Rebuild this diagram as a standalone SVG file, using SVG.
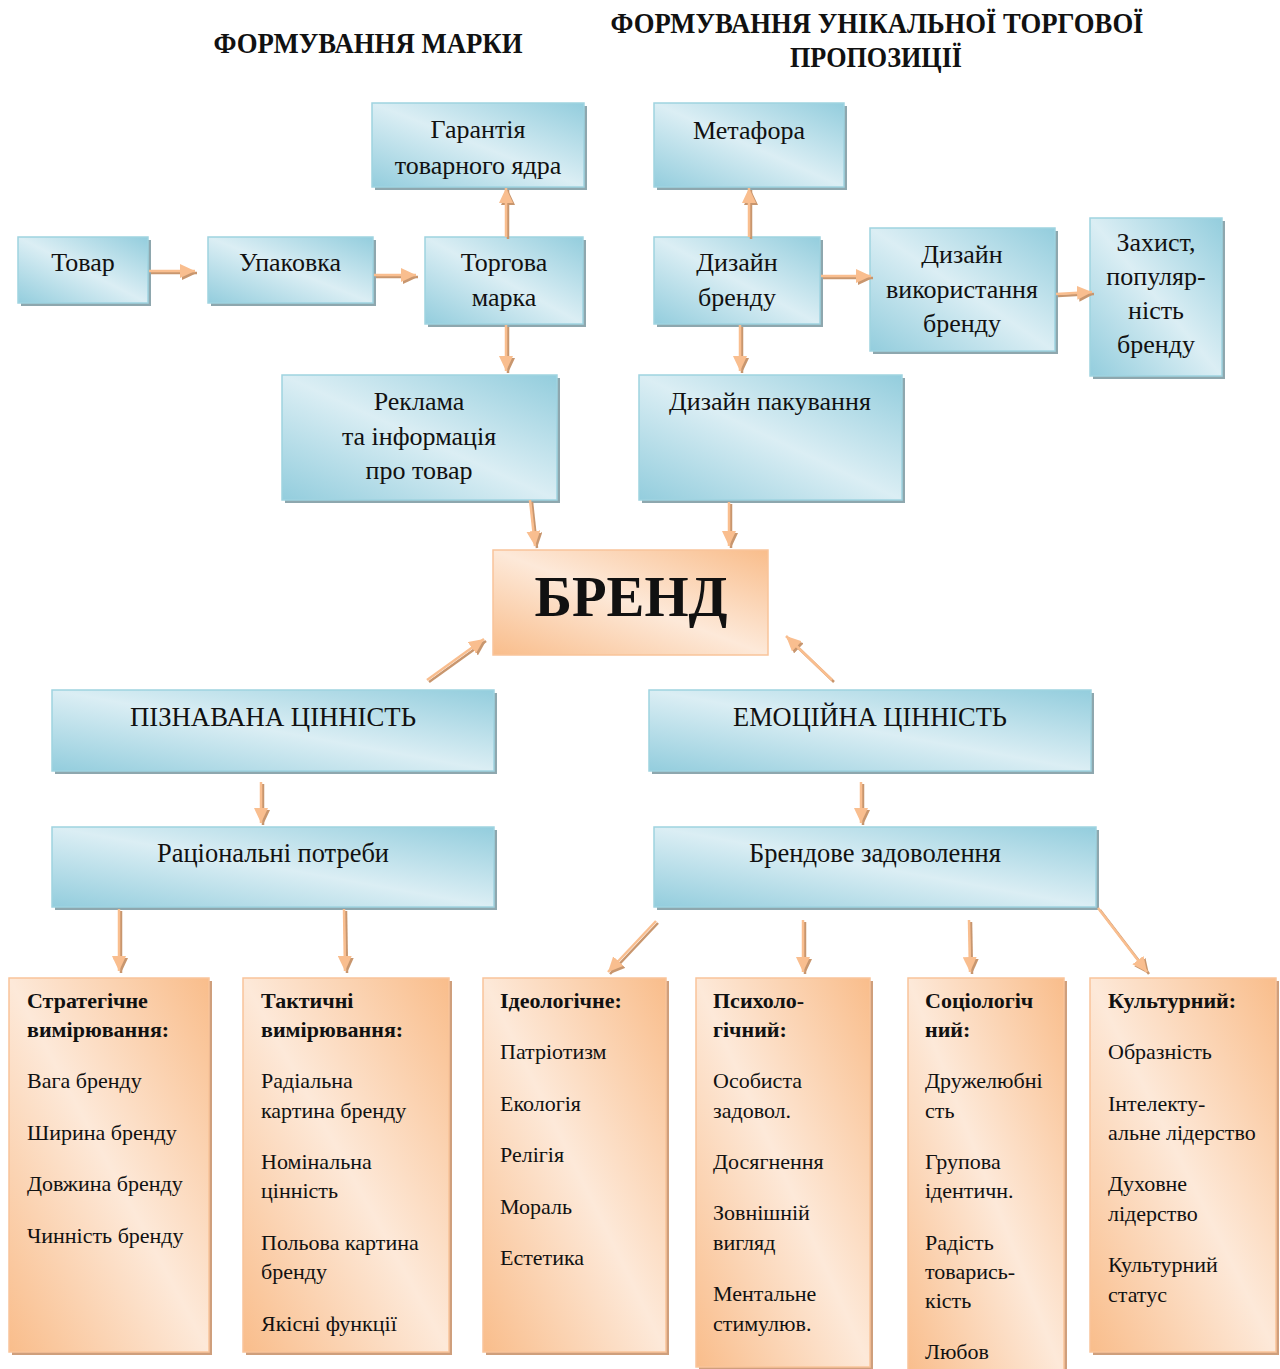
<svg xmlns="http://www.w3.org/2000/svg" width="1280" height="1369" viewBox="0 0 1280 1369">
<defs>
<linearGradient id="gb" x1="1" y1="0" x2="0" y2="1">
<stop offset="0" stop-color="#93cddd"/>
<stop offset="0.5" stop-color="#dbeef4"/>
<stop offset="1" stop-color="#93cddd"/>
</linearGradient>
<linearGradient id="go" x1="1" y1="0" x2="0" y2="1">
<stop offset="0" stop-color="#f9bd8b"/>
<stop offset="0.5" stop-color="#fde9d9"/>
<stop offset="1" stop-color="#f9bd8b"/>
</linearGradient>
<marker id="ah" markerUnits="userSpaceOnUse" markerWidth="16" markerHeight="14" refX="15" refY="7" orient="auto">
<path d="M0,0 L15,7 L0,14 z" fill="#f9be8f"/>
</marker>
<filter id="ash" filterUnits="userSpaceOnUse" x="0" y="0" width="1280" height="1369">
<feFlood flood-color="#c8966e"/>
<feComposite in2="SourceAlpha" operator="in"/>
<feOffset dx="1.5" dy="2"/>
<feMerge><feMergeNode/><feMergeNode in="SourceGraphic"/></feMerge>
</filter>
</defs>
<style>
.b{fill:url(#gb);stroke:#9fd3e0;stroke-width:1.5}
.bs{fill:#8ea7ae}
.o{fill:url(#go);stroke:#f9c49a;stroke-width:1.5}
.os{fill:#cf9f7c}
text{font-family:"Liberation Serif","Times New Roman",serif;fill:#111}
.t{font-size:26px;text-anchor:middle}
.m{font-size:28px;text-anchor:middle}
.h{font-size:30px;font-weight:bold;text-anchor:middle}
.s{font-size:22px}
.sb{font-size:22px;font-weight:bold}
.c{fill:none;stroke:#f9be8f;stroke-width:2.5;marker-end:url(#ah)}
</style>
<rect width="1280" height="1369" fill="#ffffff"/>

<g id="titles">
<text class="h" x="368" y="53" textLength="309" lengthAdjust="spacingAndGlyphs">ФОРМУВАННЯ МАРКИ</text>
<text class="h" x="877" y="33" textLength="533" lengthAdjust="spacingAndGlyphs">ФОРМУВАННЯ УНІКАЛЬНОЇ ТОРГОВОЇ</text>
<text class="h" x="876" y="67" textLength="172" lengthAdjust="spacingAndGlyphs">ПРОПОЗИЦІЇ</text>
</g>

<g id="tovar"><rect class="bs" x="21" y="240" width="130" height="66"/><rect class="b" x="18" y="237" width="130" height="66"/><text class="t" x="83" y="271">Товар</text></g>
<g id="upakovka"><rect class="bs" x="211" y="240" width="165" height="66"/><rect class="b" x="208" y="237" width="165" height="66"/><text class="t" x="290" y="271">Упаковка</text></g>
<g id="torgova"><rect class="bs" x="428" y="240" width="158" height="87"/><rect class="b" x="425" y="237" width="158" height="87"/><text class="t" x="504" y="271">Торгова</text><text class="t" x="504" y="306">марка</text></g>
<g id="garantiya"><rect class="bs" x="375" y="106" width="212" height="84"/><rect class="b" x="372" y="103" width="212" height="84"/><text class="t" x="478" y="138">Гарантія</text><text class="t" x="478" y="174">товарного ядра</text></g>
<g id="metafora"><rect class="bs" x="657" y="106" width="190" height="84"/><rect class="b" x="654" y="103" width="190" height="84"/><text class="t" x="749" y="139">Метафора</text></g>
<g id="dyzain-brendu"><rect class="bs" x="657" y="240" width="166" height="87"/><rect class="b" x="654" y="237" width="166" height="87"/><text class="t" x="737" y="271">Дизайн</text><text class="t" x="737" y="306">бренду</text></g>
<g id="dyzain-vykor"><rect class="bs" x="873" y="231" width="185" height="123"/><rect class="b" x="870" y="228" width="185" height="123"/><text class="t" x="962" y="263">Дизайн</text><text class="t" x="962" y="298">використання</text><text class="t" x="962" y="332">бренду</text></g>
<g id="zakhyst"><rect class="bs" x="1093" y="221" width="132" height="158"/><rect class="b" x="1090" y="218" width="132" height="158"/><text class="t" x="1156" y="251">Захист,</text><text class="t" x="1156" y="285">популяр-</text><text class="t" x="1156" y="319">ність</text><text class="t" x="1156" y="353">бренду</text></g>
<g id="reklama"><rect class="bs" x="285" y="378" width="275" height="125"/><rect class="b" x="282" y="375" width="275" height="125"/><text class="t" x="419" y="410">Реклама</text><text class="t" x="419" y="445">та інформація</text><text class="t" x="419" y="479">про товар</text></g>
<g id="dyzain-pak"><rect class="bs" x="642" y="378" width="263" height="125"/><rect class="b" x="639" y="375" width="263" height="125"/><text class="t" x="770" y="410">Дизайн пакування</text></g>
<g id="brend"><rect class="o" x="493" y="550" width="275" height="105"/><text x="631" y="616" font-size="58" font-weight="bold" text-anchor="middle" textLength="193" lengthAdjust="spacingAndGlyphs">БРЕНД</text></g>
<g id="piznavana"><rect class="bs" x="55" y="693" width="442" height="81"/><rect class="b" x="52" y="690" width="442" height="81"/><text class="m" x="273" y="726" textLength="286" lengthAdjust="spacingAndGlyphs">ПІЗНАВАНА ЦІННІСТЬ</text></g>
<g id="emotsiyna"><rect class="bs" x="652" y="693" width="442" height="81"/><rect class="b" x="649" y="690" width="442" height="81"/><text class="m" x="870" y="726" textLength="274" lengthAdjust="spacingAndGlyphs">ЕМОЦІЙНА ЦІННІСТЬ</text></g>
<g id="ratsionalni"><rect class="bs" x="55" y="830" width="442" height="80"/><rect class="b" x="52" y="827" width="442" height="80"/><text class="m" x="273" y="862" textLength="232" lengthAdjust="spacingAndGlyphs">Раціональні потреби</text></g>
<g id="brendove"><rect class="bs" x="657" y="830" width="442" height="80"/><rect class="b" x="654" y="827" width="442" height="80"/><text class="m" x="875" y="862" textLength="252" lengthAdjust="spacingAndGlyphs">Брендове задоволення</text></g>

<g id="stratehichne"><rect class="os" x="12" y="981" width="200" height="374"/><rect class="o" x="9" y="978" width="200" height="374"/>
<text class="sb" x="27" y="1008">Стратегічне</text><text class="sb" x="27" y="1037">вимірювання:</text>
<text class="s" x="27" y="1088">Вага бренду</text><text class="s" x="27" y="1140">Ширина бренду</text><text class="s" x="27" y="1191">Довжина бренду</text><text class="s" x="27" y="1243">Чинність бренду</text></g>
<g id="taktychni"><rect class="os" x="246" y="981" width="206" height="374"/><rect class="o" x="243" y="978" width="206" height="374"/>
<text class="sb" x="261" y="1008">Тактичні</text><text class="sb" x="261" y="1037">вимірювання:</text>
<text class="s" x="261" y="1088">Радіальна</text><text class="s" x="261" y="1118">картина бренду</text>
<text class="s" x="261" y="1169">Номінальна</text><text class="s" x="261" y="1198">цінність</text>
<text class="s" x="261" y="1250">Польова картина</text><text class="s" x="261" y="1279">бренду</text>
<text class="s" x="261" y="1331">Якісні функції</text></g>
<g id="ideolohichne"><rect class="os" x="486" y="981" width="183" height="374"/><rect class="o" x="483" y="978" width="183" height="374"/>
<text class="sb" x="500" y="1008">Ідеологічне:</text>
<text class="s" x="500" y="1059">Патріотизм</text><text class="s" x="500" y="1111">Екологія</text><text class="s" x="500" y="1162">Релігія</text><text class="s" x="500" y="1214">Мораль</text><text class="s" x="500" y="1265">Естетика</text></g>
<g id="psykholohichnyi"><rect class="os" x="699" y="981" width="174" height="389"/><rect class="o" x="696" y="978" width="174" height="389"/>
<text class="sb" x="713" y="1008">Психоло-</text><text class="sb" x="713" y="1037">гічний:</text>
<text class="s" x="713" y="1088">Особиста</text><text class="s" x="713" y="1118">задовол.</text>
<text class="s" x="713" y="1169">Досягнення</text>
<text class="s" x="713" y="1220">Зовнішній</text><text class="s" x="713" y="1250">вигляд</text>
<text class="s" x="713" y="1301">Ментальне</text><text class="s" x="713" y="1331">стимулюв.</text></g>
<g id="sotsiolohichnyi"><rect class="os" x="911" y="981" width="156" height="400"/><rect class="o" x="908" y="978" width="156" height="400"/>
<text class="sb" x="925" y="1008">Соціологіч</text><text class="sb" x="925" y="1037">ний:</text>
<text class="s" x="925" y="1088">Дружелюбні</text><text class="s" x="925" y="1118">сть</text>
<text class="s" x="925" y="1169">Групова</text><text class="s" x="925" y="1198">ідентичн.</text>
<text class="s" x="925" y="1250">Радість</text><text class="s" x="925" y="1279">товарись-</text><text class="s" x="925" y="1308">кість</text>
<text class="s" x="925" y="1359">Любов</text></g>
<g id="kulturnyi"><rect class="os" x="1093" y="981" width="186" height="374"/><rect class="o" x="1090" y="978" width="186" height="374"/>
<text class="sb" x="1108" y="1008">Культурний:</text>
<text class="s" x="1108" y="1059">Образність</text>
<text class="s" x="1108" y="1111">Інтелекту-</text><text class="s" x="1108" y="1140">альне лідерство</text>
<text class="s" x="1108" y="1191">Духовне</text><text class="s" x="1108" y="1221">лідерство</text>
<text class="s" x="1108" y="1272">Культурний</text><text class="s" x="1108" y="1302">статус</text></g>

<g id="connectors" filter="url(#ash)">
<path class="c" d="M149,271 H195"/>
<path class="c" d="M374,275 H416"/>
<path class="c" d="M506,237 V188"/>
<path class="c" d="M506,325 V371"/>
<path class="c" d="M749,237 V188"/>
<path class="c" d="M740,325 V371"/>
<path class="c" d="M821,276 H871"/>
<path class="c" d="M1056,294 L1092,292"/>
<path class="c" d="M530,500 L535,546"/>
<path class="c" d="M729,502 V546"/>
<path class="c" d="M427,680 L484,639"/>
<path class="c" d="M832,680 L786,636"/>
<path class="c" d="M261,782 V823"/>
<path class="c" d="M861,782 V823"/>
<path class="c" d="M119,909 V971"/>
<path class="c" d="M344,909 L345,971"/>
<path class="c" d="M656,921 L608,972"/>
<path class="c" d="M803,920 V972"/>
<path class="c" d="M969,920 L970,972"/>
<path class="c" d="M1098,908 L1147,972"/>
</g>
</svg>
